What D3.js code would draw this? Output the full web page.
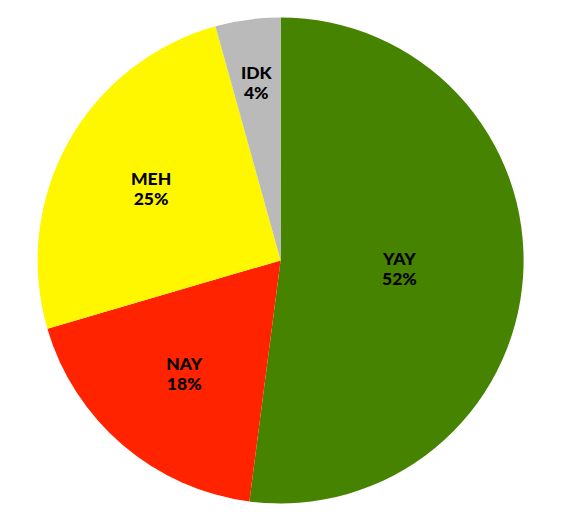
<!DOCTYPE html>
<html>
<head>
<meta charset="utf-8">
<script src="https://cdn.jsdelivr.net/npm/d3@7"></script>
<style>
  body { margin: 0; background: #fff; }
  svg { display: block; }
</style>
</head>
<body>
<div id="chart"></div>
<script>
// Slices, clockwise from 12 o'clock
const categories = ["YAY", "NAY", "MEH", "IDK"];
const shares = [52.05, 18.42, 25.21, 4.32];
const sliceColors = ["#468300", "#ff2300", "#fff700", "#bababa"];

const width = 565, height = 522;
const cx = 280.6, cy = 260.4, radius = 243;

const data = categories.map((c, i) => ({ name: c, value: shares[i], color: sliceColors[i] }));

const svg = d3.select("#chart").append("svg")
  .attr("width", width)
  .attr("height", height);

const g = svg.append("g").attr("transform", `translate(${cx},${cy})`);

const pie = d3.pie().sort(null).value(d => d.value);
const arc = d3.arc().innerRadius(0).outerRadius(radius);
const arcs = pie(data);
const total = d3.sum(data, d => d.value);

g.selectAll("path.slice")
  .data(arcs)
  .enter()
  .append("path")
  .attr("class", "slice")
  .attr("d", arc)
  .attr("fill", d => d.data.color);

// big slices get their label pulled in, thin ones pushed out
function labelRadius(d) {
  const span = d.endAngle - d.startAngle;
  if (span > Math.PI) return radius * 0.49;
  if (span < Math.PI / 6) return radius * 0.74;
  return radius * 0.61;
}

const labels = g.selectAll("text.lbl")
  .data(arcs)
  .enter()
  .append("text")
  .attr("class", "lbl")
  .attr("transform", d => {
    const r = labelRadius(d);
    const a = (d.startAngle + d.endAngle) / 2;
    return `translate(${Math.sin(a) * r},${-Math.cos(a) * r})`;
  })
  .attr("text-anchor", "middle")
  .style("font-family", "Lato, sans-serif")
  .style("font-weight", "900")
  .style("font-size", "17.5px")
  .style("fill", "#000");

labels.append("tspan")
  .attr("x", 0)
  .attr("y", -3)
  .text(d => d.data.name);

labels.append("tspan")
  .attr("x", 0)
  .attr("y", 17)
  .text(d => Math.round(d.data.value / total * 100) + "%");
</script>
</body>
</html>
